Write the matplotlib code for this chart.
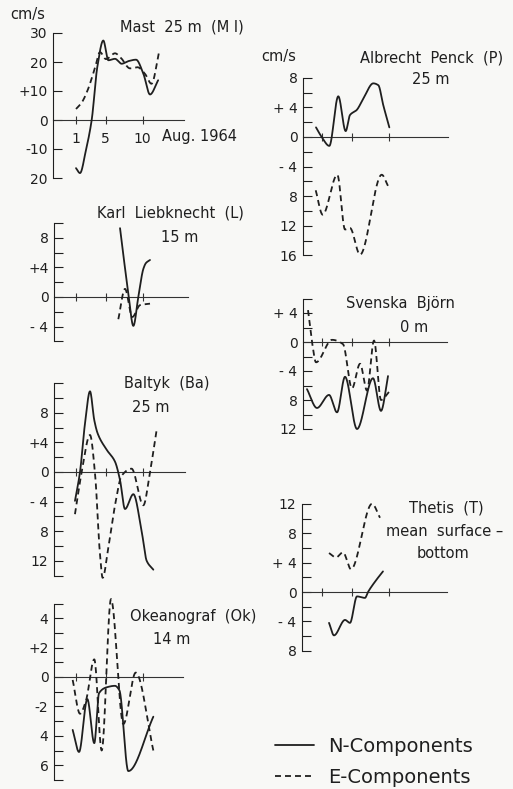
import numpy as np
import matplotlib
matplotlib.use("Agg")
import matplotlib.pyplot as plt

# ---------------------------------------------------------------------------
# Current components (cm/s) at the stations, August 1964 (x = day of month)
# ---------------------------------------------------------------------------
mast_n_day = [1.0, 1.54, 2.35, 3.12, 3.88, 4.69, 5.37, 6.27, 7.17, 8.07, 9.11, 10.1, 11.0, 12.1]
mast_n_val = [-16.6, -18.3, -10.3, 0.0, 18.3, 27.4, 20.6, 21.1, 19.4, 20.3, 20.8, 16.0, 8.8, 13.7]
mast_e_day = [1.0, 1.77, 2.53, 3.57, 4.24, 5.05, 6.27, 7.04, 8.3, 9.29, 10.3, 11.2, 12.26]
mast_e_val = [3.8, 6.0, 10.0, 18.0, 23.4, 21.0, 23.0, 21.5, 17.8, 18.2, 16.0, 12.5, 24.0]

karl_n_day = [6.95, 8.07, 8.75, 9.42, 10.1, 10.46, 11.0]
karl_n_val = [9.3, 0.5, -3.9, 0.0, 3.8, 4.6, 5.0]
karl_e_day = [6.72, 7.62, 8.61, 9.65, 11.0]
karl_e_val = [-3.0, 1.1, -2.7, -1.1, -0.9]

baltyk_n_day = [0.86, 1.54, 2.22, 2.89, 3.47, 3.93, 5.15, 6.27, 6.95, 7.62, 8.75, 9.87, 10.55, 11.45]
baltyk_n_val = [-3.9, 0.0, 6.6, 10.9, 7.0, 5.2, 3.0, 1.4, -1.1, -5.0, -3.0, -8.0, -12.0, -13.2]
baltyk_e_day = [0.86, 1.77, 2.89, 3.57, 4.24, 4.6, 5.37, 6.27, 7.17, 8.51, 10.1, 11.0, 11.9]
baltyk_e_val = [-5.7, 0.0, 5.0, -0.2, -11.1, -14.3, -10.2, -4.5, -0.5, 0.45, -4.5, 0.0, 5.7]

okean_n_day = [0.55, 1.41, 2.53, 3.47, 4.11, 5.15, 6.27, 6.86, 8.07, 11.45]
okean_n_val = [-3.6, -5.1, -1.5, -4.5, -1.1, -0.7, -0.6, -0.9, -6.4, -2.7]
okean_e_day = [0.55, 1.54, 2.35, 3.47, 4.47, 5.73, 7.4, 9.07, 11.45]
okean_e_val = [-0.2, -2.5, -1.6, 1.2, -5.0, 5.3, -3.2, 0.3, -5.0]

penck_n_day = [0.19, 0.96, 1.99, 3.2, 4.2, 4.78, 5.69, 6.59, 7.93, 8.61, 9.28, 10.1]
penck_n_val = [1.3, 0.0, -1.2, 5.5, 0.8, 2.97, 3.65, 5.2, 7.25, 7.0, 4.3, 1.3]
penck_e_day = [0.15, 1.09, 3.07, 4.11, 4.78, 6.14, 9.07, 9.96]
penck_e_val = [-7.2, -10.5, -5.1, -12.5, -12.3, -15.9, -5.1, -6.7]

bjorn_n_day = [-1.03, 0.32, 1.95, 3.03, 4.11, 5.73, 7.89, 8.97, 9.92]
bjorn_n_val = [-6.5, -9.1, -7.3, -9.7, -4.8, -12.0, -5.0, -9.5, -4.7]
bjorn_e_day = [-0.89, -0.35, 0.19, 2.35, 3.84, 5.05, 6.14, 7.08, 8.03, 8.97, 10.05]
bjorn_e_val = [4.4, 0.0, -2.8, 0.3, -0.3, -6.4, -3.0, -6.7, 0.2, -8.0, -6.9]

thetis_n_day = [1.95, 2.62, 4.11, 4.78, 5.73, 6.81, 7.22, 8.16, 9.24]
thetis_n_val = [-4.2, -5.9, -3.8, -4.2, -0.6, -0.8, 0.0, 1.4, 2.8]
thetis_e_day = [1.95, 2.89, 3.84, 4.92, 7.76, 8.84]
thetis_e_val = [5.3, 4.7, 5.4, 3.1, 12.0, 10.1]

day_ticks = [1, 5, 10]

# ---------------------------------------------------------------------------
W, H = 513, 789
INK = "#1f1f1f"
PAPER = "#f8f8f6"
plt.rcParams["font.family"] = ["DejaVu Sans"]
plt.rcParams["lines.scale_dashes"] = False

fig = plt.figure(figsize=(W / 100, H / 100), dpi=100)
fig.patch.set_facecolor(PAPER)


def smooth(x, y, n=500):
    """Monotone cubic (Fritsch-Carlson) rendering through the read points."""
    x = np.asarray(x, float)
    y = np.asarray(y, float)
    h = np.diff(x)
    d = np.diff(y) / h
    m = np.zeros_like(y)
    for k in range(1, len(x) - 1):
        if d[k - 1] * d[k] > 0:
            w1 = 2 * h[k] + h[k - 1]
            w2 = h[k] + 2 * h[k - 1]
            m[k] = (w1 + w2) / (w1 / d[k - 1] + w2 / d[k])
    m[0] = d[0]
    m[-1] = d[-1]
    xs = np.linspace(x[0], x[-1], n)
    i = np.clip(np.searchsorted(x, xs) - 1, 0, len(x) - 2)
    t = (xs - x[i]) / h[i]
    h00 = 2 * t**3 - 3 * t**2 + 1
    h10 = t**3 - 2 * t**2 + t
    h01 = -2 * t**3 + 3 * t**2
    h11 = t**3 - t**2
    ys = h00 * y[i] + h10 * h[i] * m[i] + h01 * y[i + 1] + h11 * h[i] * m[i + 1]
    return xs, ys


def panel(spine_px, end_px, zero_px, ppu, ybot, ytop, day1_px,
          major, labels, minor, ppd=7.4):
    top_px = zero_px - ytop * ppu
    bot_px = zero_px - ybot * ppu
    ax = fig.add_axes([spine_px / W, 1 - bot_px / H,
                       (end_px - spine_px) / W, (bot_px - top_px) / H])
    ax.set_xlim(1 + (spine_px - day1_px) / ppd, 1 + (end_px - day1_px) / ppd)
    ax.set_ylim(ybot, ytop)
    ax.patch.set_alpha(0)
    for s in ("top", "right", "bottom"):
        ax.spines[s].set_visible(False)
    ax.spines["left"].set_color(INK)
    ax.spines["left"].set_linewidth(0.8)
    ax.spines["left"].set_bounds(ybot, ytop)
    ax.set_xticks([])
    ax.set_yticks(major)
    ax.set_yticklabels(labels)
    ax.set_yticks(minor, minor=True)
    ax.tick_params(axis="y", which="both", direction="in", length=6.5,
                   width=0.8, color=INK, labelsize=10, labelcolor=INK, pad=4)
    # zero line with day marks
    ax.plot(ax.get_xlim(), [0, 0], color="#333333", lw=0.8, clip_on=False)
    ax.plot(day_ticks, [0] * len(day_ticks), ls="none", marker="|", ms=6,
            mew=0.8, color="#333333", clip_on=False)
    return ax


def curve(ax, d, v, dashed=False):
    xs, ys = smooth(d, v)
    (ln,) = ax.plot(xs, ys, color=INK, lw=1.3, clip_on=False,
                    solid_capstyle="round", dash_capstyle="butt")
    if dashed:
        ln.set_dashes((4.3, 2.9))
    return ln


def label(x, y, s, size=10.5, weight="normal", ha="center"):
    fig.text(x / W, 1 - y / H, s, ha=ha, va="center", fontsize=size,
             color=INK, fontweight=weight)


# ---- left column ----------------------------------------------------------
ax = panel(53, 184, 120, 2.9, -20, 30, 76,
           [-20, -10, 0, 10, 20, 30], ["20", "-10", "0", "+10", "20", "30"], [])
ln_n = curve(ax, mast_n_day, mast_n_val)
ln_e = curve(ax, mast_e_day, mast_e_val, dashed=True)
for d in day_ticks:
    ax.text(d, -4.0, str(d), ha="center", va="top", fontsize=10, color=INK)
label(28, 15, "cm/s")
label(182, 27, "Mast  25 m  (M I)")
label(162, 137, "Aug. 1964", ha="left")

ax = panel(54, 188, 297, 7.4, -6, 10, 76,
           [-4, 0, 4, 8], ["- 4", "0", "+4", "8"], [-6, -2, 2, 6, 10])
curve(ax, karl_n_day, karl_n_val)
curve(ax, karl_e_day, karl_e_val, dashed=True)
label(170, 213, "Karl  Liebknecht  (L)")
label(180, 237, "15 m")

ax = panel(54, 185, 472, 7.4, -14, 12, 76,
           [-12, -8, -4, 0, 4, 8], ["12", "8", "- 4", "0", "+4", "8"],
           [-14, -10, -6, -2, 2, 6, 10, 12])
curve(ax, baltyk_n_day, baltyk_n_val)
curve(ax, baltyk_e_day, baltyk_e_val, dashed=True)
label(167, 384, "Baltyk  (Ba)")
label(151, 408, "25 m")

ax = panel(54, 183, 677, 14.7, -7, 5, 76,
           [-6, -4, -2, 0, 2, 4], ["6", "4", "-2", "0", "+2", "4"],
           [-7, -5, -3, -1, 1, 3, 5])
curve(ax, okean_n_day, okean_n_val)
curve(ax, okean_e_day, okean_e_val, dashed=True)
label(193, 617, "Okeanograf  (Ok)")
label(172, 640, "14 m")

# ---- right column ---------------------------------------------------------
ax = panel(303, 448, 137, 7.4, -16, 8, 322,
           [-16, -12, -8, -4, 0, 4, 8], ["16", "12", "8", "- 4", "0", "+ 4", "8"],
           [-14, -10, -6, -2, 2, 6])
curve(ax, penck_n_day, penck_n_val)
curve(ax, penck_e_day, penck_e_val, dashed=True)
label(279, 57, "cm/s")
label(432, 58, "Albrecht  Penck  (P)")
label(431, 79, "25 m")

ax = panel(303, 447, 342, 7.25, -12, 6, 322,
           [-12, -8, -4, 0, 4], ["12", "8", "- 4", "0", "+ 4"],
           [-10, -6, -2, 2, 6])
curve(ax, bjorn_n_day, bjorn_n_val)
curve(ax, bjorn_e_day, bjorn_e_val, dashed=True)
label(400, 303, "Svenska  Björn")
label(414, 327, "0 m")

ax = panel(302, 447, 592, 7.35, -8, 12, 322,
           [-8, -4, 0, 4, 8, 12], ["8", "- 4", "0", "+ 4", "8", "12"],
           [-6, -2, 2, 6, 10])
curve(ax, thetis_n_day, thetis_n_val)
curve(ax, thetis_e_day, thetis_e_val, dashed=True)
label(446, 508, "Thetis  (T)")
label(445, 532, "mean  surface –")
label(443, 553, "bottom")

# ---- legend ---------------------------------------------------------------
fig.legend(handles=[ln_n, ln_e], labels=["N-Components", "E-Components"],
           loc="upper left", bbox_to_anchor=(275 / W, 1 - 737 / H),
           frameon=False, fontsize=14, handlelength=2.0, handletextpad=0.75,
           labelspacing=0.6, borderpad=0, borderaxespad=0, labelcolor=INK)

fig.savefig("out.png", dpi=100, facecolor=PAPER)
